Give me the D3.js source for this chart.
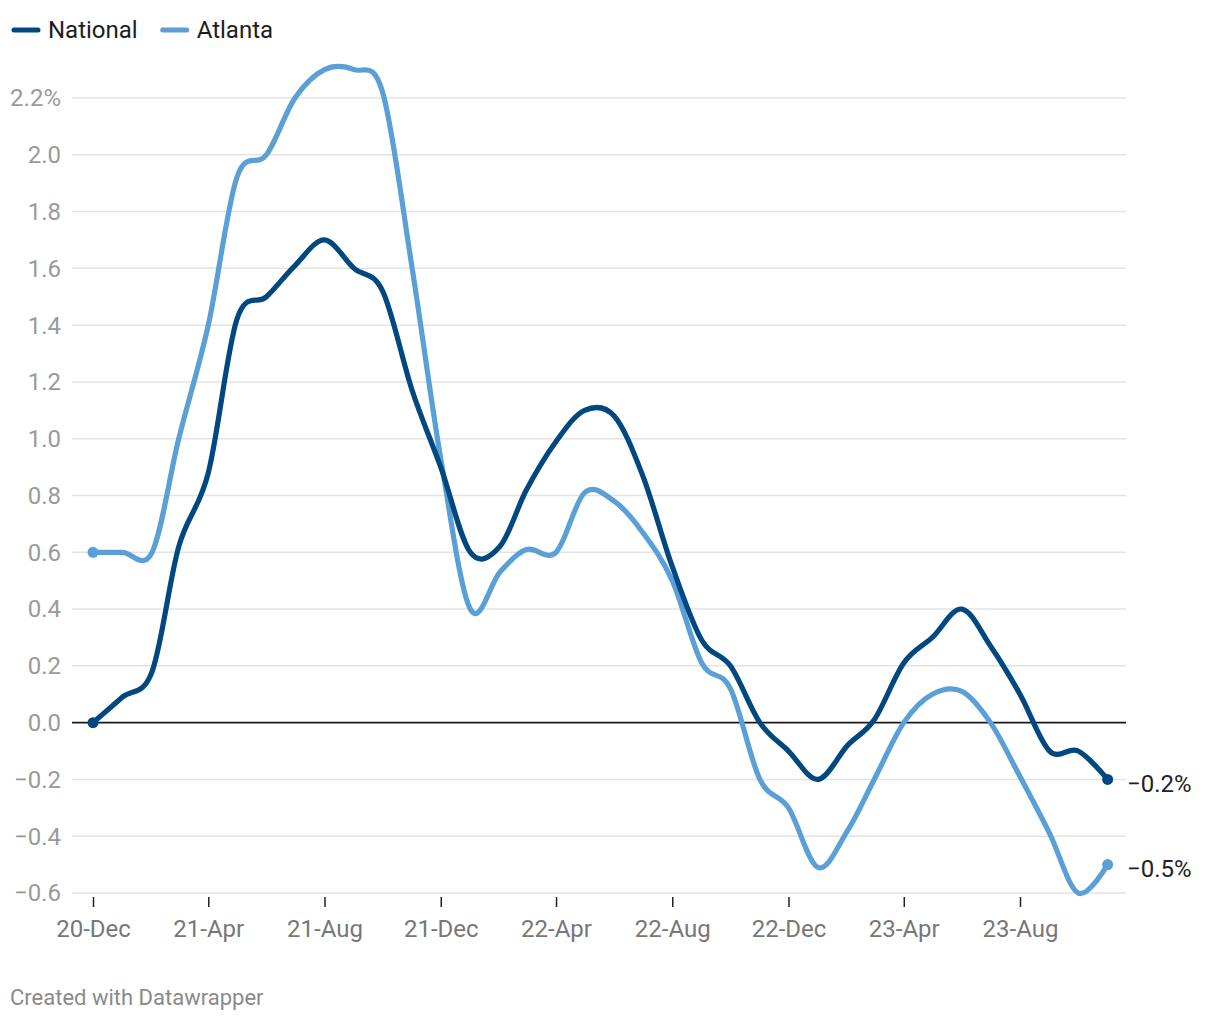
<!DOCTYPE html>
<html>
<head>
<meta charset="utf-8">
<script src="https://cdn.jsdelivr.net/npm/d3@7"></script>
<style>
  html, body { margin: 0; padding: 0; background: #fff; }
  body { width: 1220px; height: 1020px; overflow: hidden; font-family: Roboto, "Noto Sans", Arial, sans-serif; }
</style>
</head>
<body>
<svg id="chart" width="1220" height="1020"></svg>
<script>
// ---- data ----
const months = ["2020-12","2021-01","2021-02","2021-03","2021-04","2021-05","2021-06","2021-07","2021-08","2021-09","2021-10","2021-11",
                "2021-12","2022-01","2022-02","2022-03","2022-04","2022-05","2022-06","2022-07","2022-08","2022-09","2022-10","2022-11",
                "2022-12","2023-01","2023-02","2023-03","2023-04","2023-05","2023-06","2023-07","2023-08","2023-09","2023-10","2023-11"];
const national = [0.00, 0.09, 0.18, 0.62, 0.88, 1.42, 1.50, 1.61, 1.70, 1.60, 1.52, 1.17,
                  0.90, 0.60, 0.62, 0.82, 0.99, 1.10, 1.08, 0.87, 0.55, 0.29, 0.20, 0.00,
                  -0.10, -0.20, -0.08, 0.01, 0.21, 0.30, 0.40, 0.27, 0.10, -0.10, -0.10, -0.20];
const atlanta  = [0.60, 0.60, 0.60, 1.00, 1.40, 1.92, 2.00, 2.20, 2.30, 2.30, 2.22, 1.60,
                  0.93, 0.40, 0.53, 0.61, 0.60, 0.81, 0.78, 0.67, 0.50, 0.21, 0.12, -0.20,
                  -0.30, -0.51, -0.38, -0.20, 0.00, 0.10, 0.11, 0.00, -0.19, -0.39, -0.60, -0.50];
const seriesNames = ["National", "Atlanta"];
const seriesColors = ["#00487f", "#5a9fd6"];
const yTicks = [-0.6, -0.4, -0.2, 0.0, 0.2, 0.4, 0.6, 0.8, 1.0, 1.2, 1.4, 1.6, 1.8, 2.0, 2.2];
const xTickMonths = ["2020-12","2021-04","2021-08","2021-12","2022-04","2022-08","2022-12","2023-04","2023-08"];
const footer = "Created with Datawrapper";

// ---- setup ----
const parse = d3.timeParse("%Y-%m");
const dates = months.map(parse);
const svg = d3.select("#chart");
const font = "Roboto, 'Noto Sans', Arial, sans-serif";

const x = d3.scaleTime()
  .domain([parse("2020-12"), parse("2023-08")])
  .range([93, 1020]);
const y = d3.scaleLinear().domain([-0.6, 2.2]).range([893, 98]);

const fmt = v => {
  const s = Math.abs(v).toFixed(1);
  return (v < -1e-9 ? "\u2212" : "") + s;
};

// grid lines
const gx0 = 72, gx1 = 1126;
svg.append("g").selectAll("line").data(yTicks.filter(v => v !== 0)).join("line")
  .attr("x1", gx0).attr("x2", gx1)
  .attr("y1", d => y(d)).attr("y2", d => y(d))
  .attr("stroke", "#e3e3e3").attr("stroke-width", 1.5);

// y labels
svg.append("g").selectAll("text").data(yTicks).join("text")
  .attr("x", 61).attr("y", d => y(d))
  .attr("dy", "0.35em")
  .attr("text-anchor", "end")
  .attr("font-family", font).attr("font-size", 24)
  .attr("fill", "#9a9a9a")
  .text(d => fmt(d) + (d === 2.2 ? "%" : ""));

// x axis ticks + labels
const xAxis = d3.axisBottom(x)
  .tickValues(xTickMonths.map(parse))
  .tickFormat(d3.timeFormat("%y-%b"))
  .tickSize(10).tickPadding(13);
const gX = svg.append("g").attr("transform", `translate(0,${y(-0.6) + 4})`).call(xAxis);
gX.select(".domain").remove();
gX.selectAll(".tick line").attr("stroke", "#222").attr("stroke-width", 1.5);
gX.selectAll(".tick text")
  .attr("font-family", font).attr("font-size", 24).attr("fill", "#777");

// zero line
svg.append("line")
  .attr("x1", gx0).attr("x2", gx1)
  .attr("y1", y(0)).attr("y2", y(0))
  .attr("stroke", "#1a1a1a").attr("stroke-width", 1.6);

// lines
const line = d3.line()
  .x((d, i) => x(dates[i]))
  .y(d => y(d))
  .curve(d3.curveCardinal.tension(0));

const allSeries = [national, atlanta];
[1, 0].forEach(k => {
  svg.append("path")
    .datum(allSeries[k])
    .attr("d", line)
    .attr("fill", "none")
    .attr("stroke", seriesColors[k])
    .attr("stroke-width", 5.2)
    .attr("stroke-linejoin", "round")
    .attr("stroke-linecap", "round");
});

// end dots + direct labels
[1, 0].forEach(k => {
  const vals = allSeries[k];
  [0, vals.length - 1].forEach(i => {
    svg.append("circle")
      .attr("cx", x(dates[i])).attr("cy", y(vals[i]))
      .attr("r", 5.5).attr("fill", seriesColors[k]);
  });
  svg.append("text")
    .attr("x", 1127).attr("y", y(vals[vals.length - 1]) + 4)
    .attr("dy", "0.35em")
    .attr("font-family", font).attr("font-size", 24)
    .attr("fill", "#222")
    .text(fmt(vals[vals.length - 1]) + "%");
});

// legend
const legend = svg.append("g");
let lx = 12;
seriesNames.forEach((name, k) => {
  legend.append("line")
    .attr("x1", lx + 2).attr("x2", lx + 26)
    .attr("y1", 30).attr("y2", 30)
    .attr("stroke", seriesColors[k]).attr("stroke-width", 5)
    .attr("stroke-linecap", "round");
  const t = legend.append("text")
    .attr("x", lx + 36).attr("y", 30).attr("dy", "0.35em")
    .attr("font-family", font).attr("font-size", 24)
    .attr("fill", "#1d1d1d")
    .text(name);
  lx += 36 + t.node().getComputedTextLength() + 23;
});

// footer
svg.append("text")
  .attr("x", 10).attr("y", 997).attr("dy", "0.35em")
  .attr("font-family", font).attr("font-size", 22)
  .attr("fill", "#8a8a8a")
  .text(footer);
</script>
</body>
</html>
